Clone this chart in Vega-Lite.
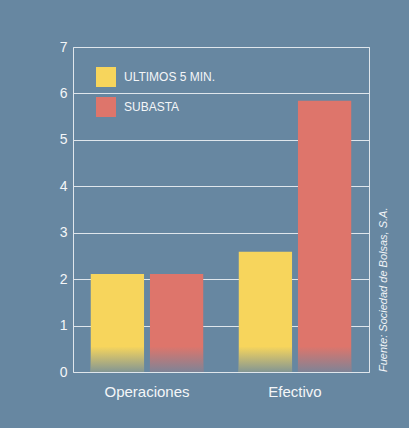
{
  "$schema": "https://vega.github.io/schema/vega-lite/v6.json",
  "width": 296,
  "height": 325,
  "autosize": {"type": "none"},
  "padding": {"left": 73, "top": 47, "right": 40, "bottom": 56},
  "background": "#6787a1",
  "config": {
    "font": "Liberation Sans",
    "view": {"stroke": "#dfe6ec", "strokeWidth": 1}
  },
  "title": {
    "text": "Fuente: Sociedad de Bolsas, S.A.",
    "orient": "right",
    "anchor": "end",
    "frame": "group",
    "angle": -90,
    "align": "left",
    "baseline": "top",
    "fontSize": 11,
    "fontStyle": "italic",
    "fontWeight": "normal",
    "color": "#f2f4f7",
    "offset": -2
  },
  "data": {
    "values": [
      {"grupo": "Operaciones", "serie": "ULTIMOS 5 MIN.", "valor": 2.11},
      {"grupo": "Operaciones", "serie": "SUBASTA", "valor": 2.11},
      {"grupo": "Efectivo", "serie": "ULTIMOS 5 MIN.", "valor": 2.59},
      {"grupo": "Efectivo", "serie": "SUBASTA", "valor": 5.84}
    ]
  },
  "encoding": {
    "x": {
      "field": "grupo",
      "type": "nominal",
      "sort": ["Operaciones", "Efectivo"],
      "scale": {"paddingInner": 0, "paddingOuter": 0},
      "axis": {
        "title": null,
        "labelAngle": 0,
        "labelFontSize": 15,
        "labelColor": "#f4f6f8",
        "labelPadding": 12,
        "ticks": false,
        "domain": false
      }
    },
    "xOffset": {
      "field": "serie",
      "type": "nominal",
      "sort": ["ULTIMOS 5 MIN.", "SUBASTA"],
      "scale": {"paddingInner": 0.1, "paddingOuter": 0.3}
    }
  },
  "layer": [
    {
      "mark": {"type": "bar", "strokeWidth": 0},
      "encoding": {
        "y": {
          "field": "valor",
          "type": "quantitative",
          "scale": {"domain": [0, 7]},
          "axis": {
            "title": null,
            "values": [0, 1, 2, 3, 4, 5, 6, 7],
            "grid": true,
            "gridColor": "#dfe6ec",
            "gridOpacity": 1,
            "domain": false,
            "ticks": false,
            "labelFontSize": 14,
            "labelColor": "#f4f6f8",
            "labelPadding": 6
          }
        },
        "color": {
          "field": "serie",
          "type": "nominal",
          "scale": {
            "domain": ["ULTIMOS 5 MIN.", "SUBASTA"],
            "range": ["#f7d55c", "#de756b"]
          },
          "legend": {
            "title": null,
            "orient": "none",
            "legendX": 23,
            "legendY": 20,
            "symbolType": "square",
            "symbolSize": 400,
            "symbolStrokeWidth": 0,
            "symbolOpacity": 1,
            "labelFontSize": 12,
            "labelColor": "#f4f6f8",
            "labelOffset": 8,
            "rowPadding": 10
          }
        }
      }
    },
    {
      "mark": {
        "type": "bar",
        "strokeWidth": 0,
        "color": {
          "gradient": "linear",
          "x1": 0, "y1": 0, "x2": 0, "y2": 1,
          "stops": [
            {"offset": 0, "color": "rgba(103,135,161,0)"},
            {"offset": 1, "color": "rgba(103,135,161,0.8)"}
          ]
        }
      },
      "encoding": {
        "y": {"datum": 0.55},
        "y2": {"datum": 0}
      }
    }
  ]
}
